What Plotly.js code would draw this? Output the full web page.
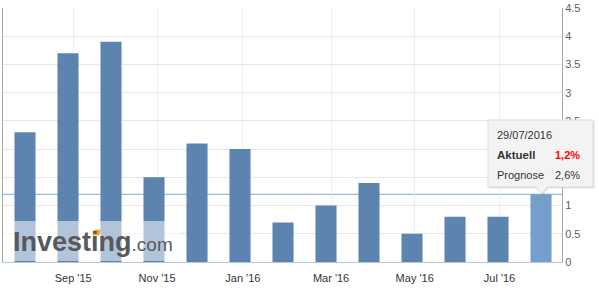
<!DOCTYPE html>
<html>
<head>
<meta charset="utf-8">
<script src="https://cdn.plot.ly/plotly-3.0.1.min.js"></script>
<style>html,body{margin:0;padding:0;background:#fff;}#chart{width:599px;height:291px;}</style>
</head>
<body>
<div id="chart"></div>
<script>
// ---- data ----
const releaseDates = ['2015-07-30','2015-08-28','2015-09-30','2015-10-30','2015-11-27','2015-12-30','2016-01-29','2016-02-26','2016-03-31','2016-04-29','2016-05-31','2016-06-30','2016-07-29'];
const actualValues = [2.3, 3.7, 3.9, 1.5, 2.1, 2.0, 0.7, 1.0, 1.4, 0.5, 0.8, 0.8, 1.2];
const tickDates = ['2015-09-01','2015-11-01','2016-01-01','2016-03-01','2016-05-01','2016-07-01'];
const tickLabels = ["Sep '15", "Nov '15", "Jan '16", "Mar '16", "May '16", "Jul '16"];
const yTickVals = [0, 0.5, 1, 1.5, 2, 2.5, 3, 3.5, 4, 4.5];
// labels for 1.5 and 2 sit under the tooltip box in the reference
const yTickText = ['0', '0.5', '1', '', '', '2.5', '3', '3.5', '4', '4.5'];
const latestValue = 1.2;
const tooltipDate = '29/07/2016';
const tooltipActual = '1,2%';
const tooltipForecast = '2,6%';

// ---- ordinal x positions (equally spaced points, ticks interpolated between) ----
const t = releaseDates.map(d => Date.parse(d));
const xIdx = releaseDates.map((d, i) => i);
function ordinalPos(dateStr) {
  const v = Date.parse(dateStr);
  for (let i = 0; i < t.length - 1; i++) {
    if (v >= t[i] && v <= t[i + 1]) return i + (v - t[i]) / (t[i + 1] - t[i]);
  }
  return 0;
}
const tickPos = tickDates.map(ordinalPos);

const barColors = actualValues.map((v, i) => i === actualValues.length - 1 ? '#769ecb' : '#5d84af');

// ---- pixel -> paper helpers for decorations ----
const PL = 3, PW = 559, PT = 8, PH = 254;
const fx = px => (px - PL) / PW;
const fy = py => (PT + PH - py) / PH;
function pathFrom(pts) {
  return 'M ' + pts.map(p => fx(p[0]).toFixed(5) + ',' + fy(p[1]).toFixed(5)).join(' L ') + ' Z';
}
const tipPts = [[488,120],[593,120],[593,187],[547,187],[541.5,194],[536,187],[488,187]];
const shadowPts1 = tipPts.map(p => [p[0] + 1, p[1] + 1]);
const shadowPts2 = tipPts.map(p => [p[0] + 2, p[1] + 2]);
const accentPts = [[92.5,235.5],[94,229.8],[100.8,229.8],[99.3,235.5]];

const font = 'Liberation Sans, Arial, sans-serif';

const trace = {
  type: 'bar',
  x: xIdx,
  y: actualValues,
  width: 0.49,
  marker: { color: barColors, line: { width: 0 } },
  hoverinfo: 'none'
};

const layout = {
  width: 599, height: 291,
  margin: { l: PL, r: 599 - PL - PW, t: PT, b: 291 - PT - PH, pad: 0 },
  paper_bgcolor: '#ffffff', plot_bgcolor: '#ffffff',
  showlegend: false,
  font: { family: font, size: 11, color: '#333' },
  xaxis: {
    range: [-0.512, 12.488],
    tickmode: 'array', tickvals: tickPos, ticktext: tickLabels,
    showgrid: true, gridcolor: '#eeeeee', gridwidth: 1,
    zeroline: false, showline: true, linecolor: '#b4c8dd', linewidth: 1,
    ticks: '', ticklabelstandoff: 6,
    tickfont: { family: font, size: 11, color: '#333' },
    fixedrange: true
  },
  yaxis: {
    side: 'right', range: [0, 4.5],
    tickmode: 'array', tickvals: yTickVals, ticktext: yTickText,
    showgrid: true, gridcolor: '#e6e6e6', gridwidth: 1,
    zeroline: false, showline: true, mirror: true, linecolor: '#a8a8a8', linewidth: 1,
    ticks: '', tickfont: { family: font, size: 11, color: '#606060' },
    fixedrange: true
  },
  shapes: [
    { type: 'line', xref: 'paper', yref: 'y', x0: 0, x1: 1, y0: latestValue, y1: latestValue,
      line: { color: '#7ba8d8', width: 1 }, layer: 'below' },
    { type: 'rect', xref: 'paper', yref: 'paper', x0: 0, x1: fx(180), y0: fy(261), y1: fy(221),
      fillcolor: 'rgba(255,255,255,0.52)', line: { width: 0 }, layer: 'above' },
    { type: 'path', xref: 'paper', yref: 'paper', path: pathFrom(shadowPts2),
      fillcolor: 'rgba(0,0,0,0.05)', line: { width: 0 }, layer: 'above' },
    { type: 'path', xref: 'paper', yref: 'paper', path: pathFrom(shadowPts1),
      fillcolor: 'rgba(0,0,0,0.08)', line: { width: 0 }, layer: 'above' },
    { type: 'path', xref: 'paper', yref: 'paper', path: pathFrom(tipPts),
      fillcolor: '#f3f3f3', line: { color: '#dcdcdc', width: 1 }, layer: 'above' }
  ],
  annotations: [
    { xref: 'paper', yref: 'paper', x: fx(13), y: fy(242), xanchor: 'left', yanchor: 'middle',
      showarrow: false, borderpad: 0, borderwidth: 0,
      text: "<b>Investing</b><span style='font-size:19px'>.com</span>",
      font: { family: font, size: 27, color: '#58595b' } },
    { xref: 'paper', yref: 'paper', x: fx(497), y: fy(135), xanchor: 'left', yanchor: 'middle',
      showarrow: false, borderpad: 0, borderwidth: 0, text: tooltipDate,
      font: { family: font, size: 11, color: '#333' } },
    { xref: 'paper', yref: 'paper', x: fx(497), y: fy(155), xanchor: 'left', yanchor: 'middle',
      showarrow: false, borderpad: 0, borderwidth: 0, text: '<b>Aktuell</b>',
      font: { family: font, size: 11.5, color: '#333' } },
    { xref: 'paper', yref: 'paper', x: fx(580), y: fy(155), xanchor: 'right', yanchor: 'middle',
      showarrow: false, borderpad: 0, borderwidth: 0, text: '<b>' + tooltipActual + '</b>',
      font: { family: font, size: 11, color: '#ff0000' } },
    { xref: 'paper', yref: 'paper', x: fx(497), y: fy(175), xanchor: 'left', yanchor: 'middle',
      showarrow: false, borderpad: 0, borderwidth: 0, text: 'Prognose',
      font: { family: font, size: 11, color: '#333' } },
    { xref: 'paper', yref: 'paper', x: fx(580), y: fy(175), xanchor: 'right', yanchor: 'middle',
      showarrow: false, borderpad: 0, borderwidth: 0, text: tooltipForecast,
      font: { family: font, size: 11, color: '#333' } }
  ]
};

Plotly.newPlot('chart', [trace], layout, { displayModeBar: false, staticPlot: true }).then(gd => {
  // orange accent of the logo, drawn after the text so it sits on top of the letter's dot
  Plotly.relayout(gd, { 'shapes[5]': { type: 'path', xref: 'paper', yref: 'paper', path: pathFrom(accentPts),
    fillcolor: '#f5a623', line: { width: 0 }, layer: 'above' } });
});
</script>
</body>
</html>
